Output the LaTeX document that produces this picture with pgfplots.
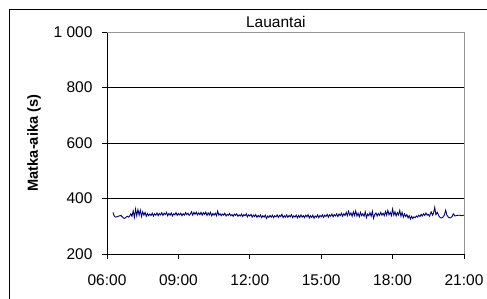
\documentclass[border=0pt]{standalone}
\usepackage{pgfplots}
\pgfplotsset{compat=1.18}
\usepackage{fontspec}
\setmainfont{Liberation Sans}
\definecolor{navyline}{RGB}{0,0,128}
\definecolor{framegray}{RGB}{150,150,150}
\begin{document}
\begin{tikzpicture}[x=1pt,y=1pt]
\useasboundingbox (0,0) rectangle (487,298);
\draw[line width=1pt] (9.5,-5) -- (9.5,288.5) -- (495,288.5);
\begin{axis}[
  at={(107pt,44pt)}, anchor=south west,
  scale only axis, width=357pt, height=222pt,
  xmin=6, xmax=21, ymin=200, ymax=1000,
  xtick={6,9,12,15,18,21},
  xticklabels={06:00,09:00,12:00,15:00,18:00,21:00},
  ytick={200,400,600,800,1000},
  yticklabels={200,400,600,800,1 000},
  axis lines*=left,
  axis line style={-, line width=0.9pt, black},
  tick align=outside,
  major tick length=5pt,
  tick style={line width=0.9pt, black},
  ymajorgrids, grid style={line width=0.9pt, black},
  /pgf/number format/assume math mode=true,
  tick label style={font=\fontsize{15.5}{18}\selectfont},
  yticklabel style={xshift=-6pt},
  xticklabel style={yshift=-12.5pt},
  title={Lauantai},
  title style={at={(axis description cs:0.473,1)}, anchor=base, yshift=-1pt, font=\fontsize{15.5}{18}\selectfont},
  ylabel={Matka-aika (s)},
  ylabel style={at={(axis description cs:0,0.5)}, anchor=center, yshift=73pt, font=\fontsize{14.6}{17}\selectfont\bfseries},
  clip=false,
]
\addplot[navyline, line width=0.9pt] coordinates {
(6.25,350) (6.30,338) (6.35,333) (6.42,334) (6.50,337) (6.58,339) (6.65,333) (6.72,328) (6.78,331) (6.85,336) (6.92,333) (6.97,340)
(7.00,345) (7.05,336) (7.10,355) (7.15,332) (7.20,362) (7.25,338) (7.30,360) (7.35,340) (7.40,358) (7.45,335) (7.50,352)
(7.55,340) (7.60,350) (7.65,336) (7.70,346) (7.75,338) (7.80,344) (7.85,339) (7.90,347) (7.95,337) (8.00,345)
(8.05,340) (8.10,348) (8.15,338) (8.20,346) (8.25,341) (8.30,349) (8.35,339) (8.40,347) (8.45,342) (8.50,350)
(8.55,338) (8.60,346) (8.65,340) (8.70,348) (8.75,337) (8.80,345) (8.85,341) (8.90,349) (8.95,339) (9.00,346)
(9.05,341) (9.10,347) (9.15,338) (9.20,345) (9.25,340) (9.30,349) (9.35,342) (9.40,347) (9.45,339) (9.50,344)
(9.55,352) (9.60,340) (9.65,350) (9.70,343) (9.75,351) (9.80,341) (9.85,348) (9.90,342) (9.95,350) (10.00,340)
(10.05,349) (10.10,343) (10.15,351) (10.20,339) (10.25,348) (10.30,341) (10.35,350) (10.40,337) (10.45,346) (10.50,340)
(10.55,347) (10.60,338) (10.65,355) (10.70,340) (10.75,345) (10.80,338) (10.85,344) (10.90,340) (10.95,347) (11.00,337)
(11.05,343) (11.10,339) (11.15,346) (11.20,338) (11.25,342) (11.30,336) (11.35,344) (11.40,339) (11.45,345) (11.50,336)
(11.55,341) (11.60,337) (11.65,344) (11.70,335) (11.75,342) (11.80,338) (11.85,345) (11.90,334) (11.95,341) (12.00,337)
(12.05,343) (12.10,333) (12.15,340) (12.20,335) (12.25,342) (12.30,332) (12.35,339) (12.40,334) (12.45,341) (12.50,331)
(12.55,338) (12.60,333) (12.65,340) (12.70,328) (12.75,337) (12.80,332) (12.85,339) (12.90,333) (12.95,340) (13.00,331)
(13.05,338) (13.10,334) (13.15,341) (13.20,332) (13.25,339) (13.30,335) (13.35,343) (13.40,331) (13.45,338) (13.50,333)
(13.55,341) (13.60,332) (13.65,339) (13.70,334) (13.75,342) (13.80,331) (13.85,338) (13.90,333) (13.95,340) (14.00,330)
(14.05,339) (14.10,332) (14.15,341) (14.20,333) (14.25,338) (14.30,331) (14.35,340) (14.40,334) (14.45,342) (14.50,330)
(14.55,338) (14.60,332) (14.65,340) (14.70,329) (14.75,337) (14.80,333) (14.85,341) (14.90,331) (14.95,339) (15.00,334)
(15.05,341) (15.10,332) (15.15,340) (15.20,335) (15.25,343) (15.30,333) (15.35,341) (15.40,336) (15.45,344) (15.50,334)
(15.55,342) (15.60,337) (15.65,345) (15.70,335) (15.75,344) (15.80,338) (15.85,347) (15.90,336) (15.95,345) (16.00,339)
(16.05,350) (16.10,338) (16.15,354) (16.20,340) (16.25,348) (16.30,336) (16.35,352) (16.40,339) (16.45,355) (16.50,337)
(16.55,347) (16.60,334) (16.65,350) (16.70,338) (16.75,345) (16.80,336) (16.85,352) (16.90,331) (16.95,344) (17.00,338)
(17.05,349) (17.10,336) (17.15,354) (17.20,328) (17.25,342) (17.30,348) (17.35,337) (17.40,346) (17.45,339) (17.50,350)
(17.55,340) (17.60,347) (17.65,338) (17.70,353) (17.75,340) (17.80,357) (17.85,341) (17.90,350) (17.95,338) (18.00,362)
(18.05,340) (18.10,352) (18.15,337) (18.20,349) (18.25,341) (18.30,357) (18.35,336) (18.40,350) (18.45,333) (18.50,345)
(18.55,335) (18.60,342) (18.65,330) (18.70,338) (18.75,326) (18.80,336) (18.85,328) (18.90,334) (18.95,331) (19.00,337)
(19.05,333) (19.10,340) (19.15,335) (19.20,343) (19.25,337) (19.30,345) (19.35,339) (19.40,348) (19.45,340) (19.50,343)
(19.55,336) (19.62,352) (19.68,340) (19.72,348) (19.77,368) (19.82,342) (19.88,350) (19.95,336) (20.02,330) (20.10,331)
(20.18,341) (20.23,358) (20.28,340) (20.35,332) (20.42,330) (20.50,335) (20.55,345) (20.62,337) (20.70,339) (20.80,340)
(20.90,338) (21.00,340)
};
\draw[framegray, line width=0.9pt] (axis cs:6,1000) -- (axis cs:21,1000) -- (axis cs:21,200);
\end{axis}
\end{tikzpicture}
\end{document}
